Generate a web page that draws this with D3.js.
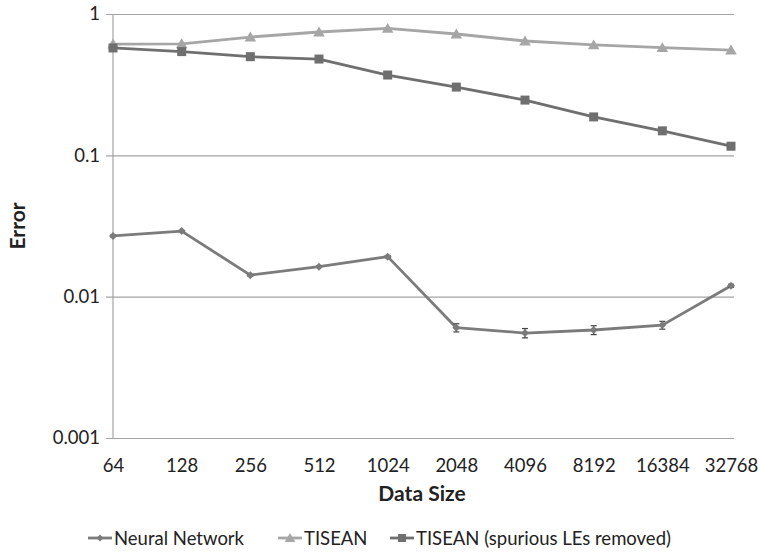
<!DOCTYPE html>
<html>
<head>
<meta charset="utf-8">
<script src="https://cdn.jsdelivr.net/npm/d3@7"></script>
<style>
  html, body { margin: 0; padding: 0; background: #fff; }
  svg { display: block; font-family: Lato, "Open Sans", sans-serif; }
</style>
</head>
<body>
<svg id="chart" width="759" height="552"></svg>
<script>
// Data sizes along the x axis
const dataSizes = ["64", "128", "256", "512", "1024", "2048", "4096", "8192", "16384", "32768"];

// Error per method
const neuralNetwork = [0.0269, 0.0291, 0.0142, 0.0163, 0.0192, 0.00603, 0.00553, 0.00581, 0.00629, 0.01194];
const neuralNetworkErr = [0.0003, 0.0003, 0.0002, 0.0002, 0.0003, 0.00040, 0.00042, 0.00042, 0.00040, 0.00030];
const tisean = [0.613, 0.615, 0.687, 0.746, 0.790, 0.722, 0.644, 0.604, 0.578, 0.556];
const tiseanRemoved = [0.575, 0.542, 0.499, 0.480, 0.370, 0.304, 0.246, 0.187, 0.149, 0.116];

const yTicks = [0.001, 0.01, 0.1, 1];

const series = [
  { name: "Neural Network", values: neuralNetwork, err: neuralNetworkErr, color: "#7b7b7b", marker: "diamond" },
  { name: "TISEAN", values: tisean, err: null, color: "#a6a6a6", marker: "triangle" },
  { name: "TISEAN (spurious LEs removed)", values: tiseanRemoved, err: null, color: "#6f6f6f", marker: "square" }
];

const svg = d3.select("#chart");
const plot = { left: 113, right: 731, top: 14, bottom: 438 };
const labelSize = 18.5;

const x = d3.scalePoint().domain(dataSizes).range([plot.left, plot.right]);
const y = d3.scaleLog().domain([0.001, 1]).range([plot.bottom, plot.top]);

// Horizontal gridlines with short outward ticks
const yAxis = d3.axisLeft(y).tickValues(yTicks).tickFormat(d => String(d))
  .tickSize(-(plot.right - plot.left + 3)).tickSizeOuter(0).tickPadding(13);
const gy = svg.append("g").attr("transform", `translate(${plot.left},0)`).call(yAxis);
gy.select(".domain").remove();
gy.selectAll(".tick line").attr("x1", -7).attr("stroke", "#a3a3a3").attr("stroke-width", 1.2);
gy.selectAll(".tick text").attr("font-size", labelSize).attr("fill", "#222").attr("font-family", "Lato");

// Vertical axis line
svg.append("line")
  .attr("x1", plot.left).attr("x2", plot.left)
  .attr("y1", plot.top).attr("y2", plot.bottom)
  .attr("stroke", "#a3a3a3").attr("stroke-width", 1.2);

// Category labels
const xAxis = d3.axisBottom(x).tickSize(0).tickPadding(21);
const gx = svg.append("g").attr("transform", `translate(0,${plot.bottom})`).call(xAxis);
gx.select(".domain").remove();
gx.selectAll(".tick text").attr("font-size", labelSize).attr("fill", "#222").attr("font-family", "Lato");

// Axis titles
svg.append("text")
  .attr("x", 422).attr("y", 501)
  .attr("text-anchor", "middle").attr("font-weight", "bold").attr("font-size", 21)
  .attr("fill", "#222").text("Data Size");
svg.append("text")
  .attr("transform", "translate(25,226) rotate(-90)")
  .attr("text-anchor", "middle").attr("font-weight", "bold").attr("font-size", 21)
  .attr("fill", "#222").text("Error");

function markerPath(type, size) {
  const s = size / 2;
  if (type === "diamond") return `M0,${-s}L${s},0L0,${s}L${-s},0Z`;
  if (type === "triangle") return `M0,${-s}L${s * 1.05},${s * 0.8}L${-s * 1.05},${s * 0.8}Z`;
  return `M${-s},${-s}H${s}V${s}H${-s}Z`;
}
const markerSize = { diamond: 8, triangle: 11, square: 9 };

const line = d3.line().x((d, i) => x(dataSizes[i])).y(d => y(d));

series.forEach(s => {
  const g = svg.append("g");
  g.append("path")
    .datum(s.values)
    .attr("fill", "none").attr("stroke", s.color).attr("stroke-width", 2.8)
    .attr("stroke-linejoin", "round")
    .attr("d", line);

  if (s.err) {
    s.values.forEach((v, i) => {
      const cx = x(dataSizes[i]);
      const y1 = y(v + s.err[i]), y2 = y(v - s.err[i]);
      g.append("line").attr("x1", cx).attr("x2", cx).attr("y1", y1).attr("y2", y2)
        .attr("stroke", "#444").attr("stroke-width", 1.2);
      [y1, y2].forEach(yy => g.append("line")
        .attr("x1", cx - 3).attr("x2", cx + 3).attr("y1", yy).attr("y2", yy)
        .attr("stroke", "#444").attr("stroke-width", 1.2));
    });
  }

  g.selectAll("path.m")
    .data(s.values)
    .join("path")
    .attr("class", "m")
    .attr("transform", (d, i) => `translate(${x(dataSizes[i])},${y(d)})`)
    .attr("d", markerPath(s.marker, markerSize[s.marker]))
    .attr("fill", s.color);
});

// Legend
const legendX = [88, 278, 390];
const legend = svg.append("g").attr("transform", "translate(0,538)");
series.forEach((s, i) => {
  const lg = legend.append("g").attr("transform", `translate(${legendX[i]},0)`);
  lg.append("line").attr("x1", 0).attr("x2", 24).attr("y1", 0).attr("y2", 0)
    .attr("stroke", s.color).attr("stroke-width", 2.8);
  lg.append("path").attr("transform", "translate(12,0)")
    .attr("d", markerPath(s.marker, markerSize[s.marker] - 1)).attr("fill", s.color);
  lg.append("text").attr("x", 26).attr("y", 6.5)
    .attr("font-size", labelSize).attr("fill", "#222").text(s.name);
});
</script>
</body>
</html>
